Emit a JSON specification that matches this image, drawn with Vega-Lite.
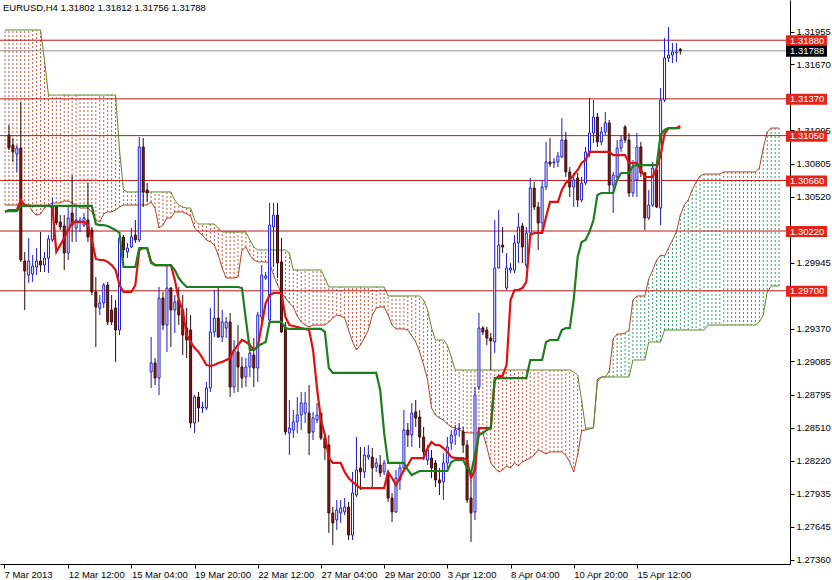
{
"$schema":"https://vega.github.io/schema/vega-lite/v6.json",
"width":790,"height":564,
"autosize":{"type":"none"},
"padding":{"left":0,"top":0,"right":42,"bottom":16},
"background":"white",
"config":{"view":{"stroke":null},"font":"Liberation Sans",
 "axis":{"grid":false,"tickColor":"black","domainColor":"black","labelColor":"black","labelFont":"Liberation Sans","labelFontSize":9.5,"tickSize":4,"title":null,"labelOverlap":false,"labelFlush":false}},
"title":{"text":"EURUSD,H4  1.31802 1.31812 1.31756 1.31788","anchor":"start","frame":"group","orient":"top","offset":-12,"fontSize":9.5,"fontWeight":"normal","font":"Liberation Sans","color":"black","dx":3},
"datasets":{
"levels":[{"p":1.3188},{"p":1.3137},{"p":1.3105},{"p":1.3066},{"p":1.3022},{"p":1.2970}],
"cur":[{"p":1.31788}],
"candles":[
{"i":0,"t":1.30386,"k":1.30394},
{"i":1,"o":1.31055,"h":1.31142,"l":1.30925,"c":1.30942,"t":1.30403,"k":1.30394},
{"i":2,"o":1.30968,"h":1.31029,"l":1.30821,"c":1.30908,"t":1.30403,"k":1.30394},
{"i":3,"o":1.30890,"h":1.30968,"l":1.30734,"c":1.30942,"t":1.30403,"k":1.30394},
{"i":4,"o":1.30942,"h":1.31343,"l":1.29951,"c":1.29968,"t":1.30490,"k":1.30438},
{"i":5,"o":1.29959,"h":1.30038,"l":1.29533,"c":1.29872,"t":1.30446,"k":1.30438},
{"i":6,"o":1.29837,"h":1.30159,"l":1.29768,"c":1.29959,"t":1.30438,"k":1.30438},
{"i":7,"o":1.29846,"h":1.30011,"l":1.29777,"c":1.29916,"t":1.30438,"k":1.30438},
{"i":8,"o":1.29907,"h":1.30072,"l":1.29837,"c":1.29959,"t":1.30438,"k":1.30438},
{"i":9,"o":1.29959,"h":1.30212,"l":1.29864,"c":1.29924,"t":1.30438,"k":1.30438},
{"i":10,"o":1.29924,"h":1.30038,"l":1.29864,"c":1.29985,"t":1.30438,"k":1.30438},
{"i":11,"o":1.29985,"h":1.30185,"l":1.29855,"c":1.30151,"t":1.30438,"k":1.30438},
{"i":12,"o":1.30142,"h":1.30507,"l":1.30125,"c":1.30429,"t":1.30429,"k":1.30438},
{"i":13,"o":1.30429,"h":1.30446,"l":1.30272,"c":1.30290,"t":1.30038,"k":1.30438},
{"i":14,"o":1.30299,"h":1.30359,"l":1.30229,"c":1.30255,"t":1.30098,"k":1.30438},
{"i":15,"o":1.30264,"h":1.30359,"l":1.29881,"c":1.30029,"t":1.30159,"k":1.30438},
{"i":16,"o":1.30029,"h":1.30446,"l":1.29968,"c":1.30333,"t":1.30229,"k":1.30438},
{"i":17,"o":1.30377,"h":1.30707,"l":1.30125,"c":1.30272,"t":1.30290,"k":1.30438},
{"i":18,"o":1.30246,"h":1.30429,"l":1.30125,"c":1.30316,"t":1.30299,"k":1.30438},
{"i":19,"o":1.30299,"h":1.30342,"l":1.30212,"c":1.30307,"t":1.30299,"k":1.30438},
{"i":20,"o":1.30272,"h":1.30377,"l":1.30255,"c":1.30333,"t":1.30299,"k":1.30438},
{"i":21,"o":1.30316,"h":1.30638,"l":1.30125,"c":1.30168,"t":1.30272,"k":1.30438},
{"i":22,"o":1.30229,"h":1.30255,"l":1.29663,"c":1.29690,"t":1.30142,"k":1.30438},
{"i":23,"o":1.29690,"h":1.29820,"l":1.29211,"c":1.29559,"t":1.29977,"k":1.30281},
{"i":24,"o":1.29550,"h":1.29663,"l":1.29489,"c":1.29594,"t":1.29968,"k":1.30272},
{"i":25,"o":1.29594,"h":1.29768,"l":1.29550,"c":1.29750,"t":1.29968,"k":1.30272},
{"i":26,"o":1.29750,"h":1.29777,"l":1.29402,"c":1.29429,"t":1.29951,"k":1.30264},
{"i":27,"o":1.29533,"h":1.29663,"l":1.29402,"c":1.29429,"t":1.29924,"k":1.30246},
{"i":28,"o":1.29550,"h":1.29620,"l":1.29081,"c":1.29359,"t":1.29881,"k":1.30229},
{"i":29,"o":1.29359,"h":1.30185,"l":1.29315,"c":1.30159,"t":1.29750,"k":1.30203},
{"i":30,"o":1.30168,"h":1.30185,"l":1.29985,"c":1.30055,"t":1.29690,"k":1.29907},
{"i":31,"o":1.30038,"h":1.30116,"l":1.29985,"c":1.30072,"t":1.29690,"k":1.29907},
{"i":32,"o":1.30081,"h":1.30246,"l":1.30072,"c":1.30168,"t":1.29690,"k":1.29907},
{"i":33,"o":1.30185,"h":1.30316,"l":1.30116,"c":1.30142,"t":1.29750,"k":1.29907},
{"i":34,"o":1.30142,"h":1.31038,"l":1.30125,"c":1.30951,"t":1.30055,"k":1.30072},
{"i":35,"o":1.30951,"h":1.31029,"l":1.30429,"c":1.30560,"t":1.30072,"k":1.30072},
{"i":36,"o":1.30577,"h":1.30638,"l":1.30473,"c":1.30551,"t":1.30072,"k":1.30072},
{"i":37,"o":1.28994,"h":1.29298,"l":1.28854,"c":1.29072,"t":1.29951,"k":1.29942},
{"i":38,"o":1.29072,"h":1.29115,"l":1.28880,"c":1.28941,"t":1.29924,"k":1.29924},
{"i":39,"o":1.28941,"h":1.29733,"l":1.28793,"c":1.29637,"t":1.29924,"k":1.29924},
{"i":40,"o":1.29637,"h":1.29690,"l":1.29359,"c":1.29402,"t":1.29924,"k":1.29924},
{"i":41,"o":1.29402,"h":1.29924,"l":1.29168,"c":1.29724,"t":1.29924,"k":1.29924},
{"i":42,"o":1.29724,"h":1.29733,"l":1.29211,"c":1.29533,"t":1.29924,"k":1.29924},
{"i":43,"o":1.29533,"h":1.29663,"l":1.29333,"c":1.29603,"t":1.29794,"k":1.29881},
{"i":44,"o":1.29620,"h":1.29733,"l":1.29402,"c":1.29489,"t":1.29620,"k":1.29811},
{"i":45,"o":1.29533,"h":1.29663,"l":1.29141,"c":1.29315,"t":1.29533,"k":1.29768},
{"i":46,"o":1.29376,"h":1.29550,"l":1.29115,"c":1.29272,"t":1.29315,"k":1.29733},
{"i":47,"o":1.29359,"h":1.29489,"l":1.28506,"c":1.28550,"t":1.29255,"k":1.29733},
{"i":48,"o":1.28550,"h":1.28793,"l":1.28463,"c":1.28776,"t":1.29202,"k":1.29733},
{"i":49,"o":1.28776,"h":1.28820,"l":1.28559,"c":1.28680,"t":1.29168,"k":1.29733},
{"i":50,"o":1.28680,"h":1.28733,"l":1.28637,"c":1.28689,"t":1.29115,"k":1.29733},
{"i":51,"o":1.28680,"h":1.28907,"l":1.28663,"c":1.28854,"t":1.29054,"k":1.29733},
{"i":52,"o":1.28854,"h":1.29550,"l":1.28820,"c":1.29342,"t":1.29046,"k":1.29733},
{"i":53,"o":1.29342,"h":1.29707,"l":1.29298,"c":1.29463,"t":1.29054,"k":1.29733},
{"i":54,"o":1.29463,"h":1.29724,"l":1.29289,"c":1.29298,"t":1.29072,"k":1.29733},
{"i":55,"o":1.29298,"h":1.29533,"l":1.29255,"c":1.29429,"t":1.29081,"k":1.29733},
{"i":56,"o":1.29376,"h":1.29472,"l":1.29289,"c":1.29429,"t":1.29098,"k":1.29733},
{"i":57,"o":1.29429,"h":1.29507,"l":1.28776,"c":1.28863,"t":1.29115,"k":1.29733},
{"i":58,"o":1.28863,"h":1.29272,"l":1.28811,"c":1.29185,"t":1.29185,"k":1.29733},
{"i":59,"o":1.29168,"h":1.29402,"l":1.28820,"c":1.29037,"t":1.29228,"k":1.29733},
{"i":60,"o":1.29037,"h":1.29124,"l":1.28854,"c":1.28941,"t":1.29272,"k":1.29724},
{"i":61,"o":1.28950,"h":1.29115,"l":1.28863,"c":1.29037,"t":1.29255,"k":1.29446},
{"i":62,"o":1.29037,"h":1.29246,"l":1.28950,"c":1.29159,"t":1.29228,"k":1.29185},
{"i":63,"o":1.29141,"h":1.29289,"l":1.28863,"c":1.29028,"t":1.29185,"k":1.29185},
{"i":64,"o":1.29028,"h":1.29516,"l":1.28907,"c":1.29489,"t":1.29211,"k":1.29220},
{"i":65,"o":1.29472,"h":1.29924,"l":1.29429,"c":1.29837,"t":1.29402,"k":1.29237},
{"i":66,"o":1.29811,"h":1.29864,"l":1.29794,"c":1.29829,"t":1.29594,"k":1.29255},
{"i":67,"o":1.29446,"h":1.30464,"l":1.29420,"c":1.30272,"t":1.29663,"k":1.29429},
{"i":68,"o":1.30255,"h":1.30464,"l":1.29907,"c":1.30359,"t":1.29681,"k":1.29429},
{"i":69,"o":1.30359,"h":1.30464,"l":1.29811,"c":1.29942,"t":1.29681,"k":1.29429},
{"i":70,"o":1.29951,"h":1.30159,"l":1.29333,"c":1.29342,"t":1.29681,"k":1.29429},
{"i":71,"o":1.29385,"h":1.29429,"l":1.28445,"c":1.28472,"t":1.29472,"k":1.29376},
{"i":72,"o":1.28463,"h":1.28750,"l":1.28271,"c":1.28506,"t":1.29402,"k":1.29368},
{"i":73,"o":1.28489,"h":1.28663,"l":1.28419,"c":1.28559,"t":1.29394,"k":1.29368},
{"i":74,"o":1.28559,"h":1.28776,"l":1.28463,"c":1.28619,"t":1.29385,"k":1.29368},
{"i":75,"o":1.28619,"h":1.28820,"l":1.28489,"c":1.28724,"t":1.29376,"k":1.29368},
{"i":76,"o":1.28637,"h":1.28820,"l":1.28550,"c":1.28724,"t":1.29368,"k":1.29368},
{"i":77,"o":1.28637,"h":1.28880,"l":1.28271,"c":1.28463,"t":1.29359,"k":1.29368},
{"i":78,"o":1.28472,"h":1.28646,"l":1.28402,"c":1.28593,"t":1.29185,"k":1.29368},
{"i":79,"o":1.28576,"h":1.28724,"l":1.28550,"c":1.28619,"t":1.28854,"k":1.29368},
{"i":80,"o":1.28637,"h":1.28637,"l":1.28402,"c":1.28419,"t":1.28576,"k":1.29368},
{"i":81,"o":1.28419,"h":1.28463,"l":1.28228,"c":1.28332,"t":1.28445,"k":1.29342},
{"i":82,"o":1.28358,"h":1.28445,"l":1.27593,"c":1.27767,"t":1.28245,"k":1.29028},
{"i":83,"o":1.27767,"h":1.27819,"l":1.27488,"c":1.27680,"t":1.28202,"k":1.28985},
{"i":84,"o":1.27706,"h":1.27880,"l":1.27619,"c":1.27793,"t":1.28202,"k":1.28985},
{"i":85,"o":1.27767,"h":1.27880,"l":1.27680,"c":1.27810,"t":1.28202,"k":1.28985},
{"i":86,"o":1.27776,"h":1.27897,"l":1.27749,"c":1.27819,"t":1.28124,"k":1.28985},
{"i":87,"o":1.27819,"h":1.27863,"l":1.27532,"c":1.27575,"t":1.28071,"k":1.28985},
{"i":88,"o":1.27575,"h":1.28124,"l":1.27532,"c":1.27941,"t":1.28037,"k":1.28985},
{"i":89,"o":1.27923,"h":1.28428,"l":1.27906,"c":1.28141,"t":1.28010,"k":1.28985},
{"i":90,"o":1.28158,"h":1.28341,"l":1.27967,"c":1.28124,"t":1.27984,"k":1.28985},
{"i":91,"o":1.28124,"h":1.28341,"l":1.28071,"c":1.28271,"t":1.27984,"k":1.28985},
{"i":92,"o":1.28254,"h":1.28358,"l":1.28228,"c":1.28271,"t":1.27984,"k":1.28985},
{"i":93,"o":1.28254,"h":1.28332,"l":1.27984,"c":1.28158,"t":1.27984,"k":1.28985},
{"i":94,"o":1.28167,"h":1.28245,"l":1.28124,"c":1.28202,"t":1.27984,"k":1.28985},
{"i":95,"o":1.28184,"h":1.28271,"l":1.28080,"c":1.28115,"t":1.27984,"k":1.28837},
{"i":96,"o":1.28124,"h":1.28228,"l":1.28097,"c":1.28202,"t":1.27984,"k":1.28463},
{"i":97,"o":1.28115,"h":1.28141,"l":1.27863,"c":1.27897,"t":1.28124,"k":1.28202},
{"i":98,"o":1.27897,"h":1.27941,"l":1.27689,"c":1.27776,"t":1.28071,"k":1.28202},
{"i":99,"o":1.27776,"h":1.28141,"l":1.27767,"c":1.28071,"t":1.28010,"k":1.28202},
{"i":100,"o":1.28054,"h":1.28202,"l":1.27967,"c":1.28158,"t":1.28071,"k":1.28202},
{"i":101,"o":1.28158,"h":1.28663,"l":1.28124,"c":1.28489,"t":1.28141,"k":1.28202},
{"i":102,"o":1.28489,"h":1.28550,"l":1.28341,"c":1.28445,"t":1.28184,"k":1.28141},
{"i":103,"o":1.28445,"h":1.28724,"l":1.28341,"c":1.28637,"t":1.28245,"k":1.28097},
{"i":104,"o":1.28646,"h":1.28750,"l":1.28515,"c":1.28593,"t":1.28245,"k":1.28115},
{"i":105,"o":1.28602,"h":1.28663,"l":1.28332,"c":1.28428,"t":1.28245,"k":1.28132},
{"i":106,"o":1.28428,"h":1.28515,"l":1.28228,"c":1.28298,"t":1.28245,"k":1.28132},
{"i":107,"o":1.28228,"h":1.28358,"l":1.28184,"c":1.28315,"t":1.28332,"k":1.28132},
{"i":108,"o":1.28245,"h":1.28315,"l":1.28071,"c":1.28158,"t":1.28385,"k":1.28132},
{"i":109,"o":1.28202,"h":1.28228,"l":1.27993,"c":1.28054,"t":1.28358,"k":1.28132},
{"i":110,"o":1.28054,"h":1.28158,"l":1.27923,"c":1.28028,"t":1.28358,"k":1.28132},
{"i":111,"o":1.28037,"h":1.28289,"l":1.27880,"c":1.28202,"t":1.28332,"k":1.28132},
{"i":112,"o":1.28202,"h":1.28428,"l":1.28141,"c":1.28341,"t":1.28298,"k":1.28132},
{"i":113,"o":1.28376,"h":1.28489,"l":1.28315,"c":1.28445,"t":1.28254,"k":1.28211},
{"i":114,"o":1.28445,"h":1.28532,"l":1.28358,"c":1.28489,"t":1.28245,"k":1.28228},
{"i":115,"o":1.28498,"h":1.28550,"l":1.28428,"c":1.28506,"t":1.28245,"k":1.28228},
{"i":116,"o":1.28472,"h":1.28515,"l":1.28289,"c":1.28358,"t":1.28245,"k":1.28228},
{"i":117,"o":1.28358,"h":1.28402,"l":1.27854,"c":1.27880,"t":1.28228,"k":1.28158},
{"i":118,"o":1.27897,"h":1.28054,"l":1.27515,"c":1.27767,"t":1.28071,"k":1.28115},
{"i":119,"o":1.27776,"h":1.28863,"l":1.27706,"c":1.28793,"t":1.28141,"k":1.28271},
{"i":120,"o":1.28863,"h":1.29507,"l":1.28837,"c":1.29376,"t":1.28506,"k":1.28445},
{"i":121,"o":1.29376,"h":1.29394,"l":1.29315,"c":1.29342,"t":1.28506,"k":1.28463},
{"i":122,"o":1.29359,"h":1.29385,"l":1.29228,"c":1.29289,"t":1.28506,"k":1.28489},
{"i":123,"o":1.29289,"h":1.29333,"l":1.29011,"c":1.29263,"t":1.28506,"k":1.28506},
{"i":124,"o":1.29255,"h":1.30316,"l":1.29159,"c":1.29898,"t":1.28924,"k":1.28941},
{"i":125,"o":1.29898,"h":1.30403,"l":1.29898,"c":1.30098,"t":1.28959,"k":1.28941},
{"i":126,"o":1.30098,"h":1.30255,"l":1.30029,"c":1.30081,"t":1.28959,"k":1.28941},
{"i":127,"o":1.29724,"h":1.30029,"l":1.29707,"c":1.29898,"t":1.29054,"k":1.28941},
{"i":128,"o":1.29881,"h":1.29942,"l":1.29855,"c":1.29898,"t":1.29620,"k":1.28941},
{"i":129,"o":1.29881,"h":1.30185,"l":1.29855,"c":1.30116,"t":1.29707,"k":1.28941},
{"i":130,"o":1.30116,"h":1.30377,"l":1.29942,"c":1.30255,"t":1.29707,"k":1.28941},
{"i":131,"o":1.30264,"h":1.30290,"l":1.29942,"c":1.30081,"t":1.29724,"k":1.28941},
{"i":132,"o":1.29924,"h":1.30255,"l":1.29898,"c":1.30203,"t":1.29777,"k":1.28941},
{"i":133,"o":1.30203,"h":1.30681,"l":1.30168,"c":1.30594,"t":1.30185,"k":1.29098},
{"i":134,"o":1.30594,"h":1.30647,"l":1.30403,"c":1.30429,"t":1.30203,"k":1.29098},
{"i":135,"o":1.30429,"h":1.30473,"l":1.30055,"c":1.30290,"t":1.30203,"k":1.29098},
{"i":136,"o":1.30290,"h":1.30664,"l":1.30203,"c":1.30603,"t":1.30203,"k":1.29098},
{"i":137,"o":1.30603,"h":1.30995,"l":1.30577,"c":1.30821,"t":1.30342,"k":1.29255},
{"i":138,"o":1.30821,"h":1.31029,"l":1.30777,"c":1.30803,"t":1.30473,"k":1.29272},
{"i":139,"o":1.30812,"h":1.30855,"l":1.30768,"c":1.30821,"t":1.30473,"k":1.29272},
{"i":140,"o":1.30821,"h":1.30908,"l":1.30777,"c":1.30873,"t":1.30473,"k":1.29272},
{"i":141,"o":1.30864,"h":1.31203,"l":1.30855,"c":1.31012,"t":1.30577,"k":1.29359},
{"i":142,"o":1.31012,"h":1.31082,"l":1.30690,"c":1.30734,"t":1.30638,"k":1.29376},
{"i":143,"o":1.30734,"h":1.30777,"l":1.30516,"c":1.30603,"t":1.30664,"k":1.29376},
{"i":144,"o":1.30603,"h":1.30725,"l":1.30429,"c":1.30664,"t":1.30707,"k":1.29620},
{"i":145,"o":1.30681,"h":1.30725,"l":1.30429,"c":1.30490,"t":1.30751,"k":1.29994},
{"i":146,"o":1.30490,"h":1.30690,"l":1.30473,"c":1.30638,"t":1.30812,"k":1.30125},
{"i":147,"o":1.30638,"h":1.30951,"l":1.30620,"c":1.30908,"t":1.30838,"k":1.30142},
{"i":148,"o":1.30899,"h":1.31377,"l":1.30864,"c":1.31073,"t":1.30908,"k":1.30212},
{"i":149,"o":1.31073,"h":1.31360,"l":1.30986,"c":1.31212,"t":1.30908,"k":1.30316},
{"i":150,"o":1.31212,"h":1.31247,"l":1.30951,"c":1.30995,"t":1.30908,"k":1.30534},
{"i":151,"o":1.30995,"h":1.31125,"l":1.30968,"c":1.31082,"t":1.30908,"k":1.30551},
{"i":152,"o":1.31082,"h":1.31256,"l":1.31055,"c":1.31160,"t":1.30908,"k":1.30551},
{"i":153,"o":1.31160,"h":1.31186,"l":1.30551,"c":1.30620,"t":1.30908,"k":1.30551},
{"i":154,"o":1.30620,"h":1.30734,"l":1.30377,"c":1.30707,"t":1.30881,"k":1.30551},
{"i":155,"o":1.30690,"h":1.31012,"l":1.30664,"c":1.30942,"t":1.30881,"k":1.30664},
{"i":156,"o":1.30942,"h":1.31055,"l":1.30908,"c":1.31012,"t":1.30881,"k":1.30725},
{"i":157,"o":1.31125,"h":1.31142,"l":1.30986,"c":1.31012,"t":1.30881,"k":1.30725},
{"i":158,"o":1.31012,"h":1.31073,"l":1.30516,"c":1.30551,"t":1.30812,"k":1.30725},
{"i":159,"o":1.30551,"h":1.30838,"l":1.30516,"c":1.30777,"t":1.30812,"k":1.30786},
{"i":160,"o":1.30664,"h":1.31073,"l":1.30516,"c":1.30951,"t":1.30812,"k":1.30794},
{"i":161,"o":1.30951,"h":1.30995,"l":1.30690,"c":1.30725,"t":1.30751,"k":1.30794},
{"i":162,"o":1.30725,"h":1.30734,"l":1.30229,"c":1.30333,"t":1.30690,"k":1.30794},
{"i":163,"o":1.30333,"h":1.30577,"l":1.30316,"c":1.30446,"t":1.30690,"k":1.30794},
{"i":164,"o":1.30446,"h":1.30821,"l":1.30429,"c":1.30768,"t":1.30690,"k":1.30794},
{"i":165,"o":1.30751,"h":1.30812,"l":1.30420,"c":1.30429,"t":1.30768,"k":1.30794},
{"i":166,"o":1.30420,"h":1.31464,"l":1.30272,"c":1.31360,"t":1.30881,"k":1.31055},
{"i":167,"o":1.31360,"h":1.31899,"l":1.31343,"c":1.31725,"t":1.31064,"k":1.31099},
{"i":168,"o":1.31725,"h":1.31995,"l":1.31690,"c":1.31751,"t":1.31116,"k":1.31116},
{"i":169,"o":1.31751,"h":1.31856,"l":1.31682,"c":1.31778,"t":1.31116,"k":1.31116},
{"i":170,"o":1.31769,"h":1.31856,"l":1.31690,"c":1.31778,"t":1.31116,"k":1.31116},
{"i":171,"o":1.31802,"h":1.31812,"l":1.31756,"c":1.31788,"t":1.31134,"k":1.31116}
],
"cloud":[
{"i":0,"a":1.30446,"b":1.31969},{"i":1,"a":1.30446,"b":1.31969},{"i":2,"a":1.30446,"b":1.31969},{"i":3,"a":1.30446,"b":1.31969},{"i":4,"a":1.30446,"b":1.31969},{"i":5,"a":1.30446,"b":1.31969},{"i":6,"a":1.30446,"b":1.31969},{"i":7,"a":1.30386,"b":1.31969},{"i":8,"a":1.30359,"b":1.31969},{"i":9,"a":1.30368,"b":1.31969},
{"i":10,"a":1.30420,"b":1.31708},{"i":11,"a":1.30446,"b":1.31403},{"i":12,"a":1.30464,"b":1.31403},{"i":13,"a":1.30464,"b":1.31403},{"i":14,"a":1.30464,"b":1.31403},{"i":15,"a":1.30481,"b":1.31403},{"i":16,"a":1.30481,"b":1.31403},{"i":17,"a":1.30464,"b":1.31403},{"i":18,"a":1.30446,"b":1.31403},{"i":19,"a":1.30420,"b":1.31403},
{"i":20,"a":1.30420,"b":1.31403},{"i":21,"a":1.30420,"b":1.31403},{"i":22,"a":1.30386,"b":1.31403},{"i":23,"a":1.30316,"b":1.31403},{"i":24,"a":1.30299,"b":1.31403},{"i":25,"a":1.30368,"b":1.31403},{"i":26,"a":1.30386,"b":1.31403},{"i":27,"a":1.30386,"b":1.31403},{"i":28,"a":1.30403,"b":1.31403},{"i":29,"a":1.30429,"b":1.30925},
{"i":30,"a":1.30446,"b":1.30577},{"i":31,"a":1.30446,"b":1.30560},{"i":32,"a":1.30446,"b":1.30560},{"i":33,"a":1.30446,"b":1.30560},{"i":34,"a":1.30446,"b":1.30560},{"i":35,"a":1.30446,"b":1.30560},{"i":36,"a":1.30446,"b":1.30560},{"i":37,"a":1.30473,"b":1.30560},{"i":38,"a":1.30420,"b":1.30560},{"i":39,"a":1.30246,"b":1.30560},
{"i":40,"a":1.30272,"b":1.30560},{"i":41,"a":1.30333,"b":1.30560},{"i":42,"a":1.30333,"b":1.30560},{"i":43,"a":1.30386,"b":1.30490},{"i":44,"a":1.30386,"b":1.30446},{"i":45,"a":1.30386,"b":1.30429},{"i":46,"a":1.30368,"b":1.30420},{"i":47,"a":1.30351,"b":1.30420},{"i":48,"a":1.30246,"b":1.30316},{"i":49,"a":1.30212,"b":1.30281},
{"i":50,"a":1.30185,"b":1.30281},{"i":51,"a":1.30142,"b":1.30281},{"i":52,"a":1.30125,"b":1.30281},{"i":53,"a":1.30098,"b":1.30281},{"i":54,"a":1.30011,"b":1.30246},{"i":55,"a":1.29898,"b":1.30212},{"i":56,"a":1.29811,"b":1.30212},{"i":57,"a":1.29811,"b":1.30212},{"i":58,"a":1.29811,"b":1.30212},{"i":59,"a":1.29820,"b":1.30212},
{"i":60,"a":1.30055,"b":1.30212},{"i":61,"a":1.30081,"b":1.30212},{"i":62,"a":1.30011,"b":1.30142},{"i":63,"a":1.29968,"b":1.30081},{"i":64,"a":1.29951,"b":1.30055},{"i":65,"a":1.29951,"b":1.30055},{"i":66,"a":1.29951,"b":1.30055},{"i":67,"a":1.29942,"b":1.30055},{"i":68,"a":1.29837,"b":1.30055},{"i":69,"a":1.29750,"b":1.30055},
{"i":70,"a":1.29681,"b":1.30055},{"i":71,"a":1.29637,"b":1.30055},{"i":72,"a":1.29594,"b":1.30029},{"i":73,"a":1.29559,"b":1.29881},{"i":74,"a":1.29481,"b":1.29881},{"i":75,"a":1.29429,"b":1.29881},{"i":76,"a":1.29402,"b":1.29881},{"i":77,"a":1.29385,"b":1.29881},{"i":78,"a":1.29402,"b":1.29881},{"i":79,"a":1.29402,"b":1.29881},
{"i":80,"a":1.29402,"b":1.29881},{"i":81,"a":1.29402,"b":1.29811},{"i":82,"a":1.29429,"b":1.29733},{"i":83,"a":1.29463,"b":1.29733},{"i":84,"a":1.29489,"b":1.29733},{"i":85,"a":1.29481,"b":1.29733},{"i":86,"a":1.29463,"b":1.29733},{"i":87,"a":1.29359,"b":1.29733},{"i":88,"a":1.29255,"b":1.29733},{"i":89,"a":1.29185,"b":1.29733},
{"i":90,"a":1.29228,"b":1.29733},{"i":91,"a":1.29289,"b":1.29733},{"i":92,"a":1.29359,"b":1.29733},{"i":93,"a":1.29489,"b":1.29733},{"i":94,"a":1.29550,"b":1.29733},{"i":95,"a":1.29559,"b":1.29733},{"i":96,"a":1.29559,"b":1.29733},{"i":97,"a":1.29489,"b":1.29655},{"i":98,"a":1.29402,"b":1.29655},{"i":99,"a":1.29368,"b":1.29655},
{"i":100,"a":1.29368,"b":1.29655},{"i":101,"a":1.29368,"b":1.29655},{"i":102,"a":1.29359,"b":1.29655},{"i":103,"a":1.29307,"b":1.29655},{"i":104,"a":1.29255,"b":1.29655},{"i":105,"a":1.29168,"b":1.29655},{"i":106,"a":1.29054,"b":1.29620},{"i":107,"a":1.28924,"b":1.29533},{"i":108,"a":1.28680,"b":1.29376},{"i":109,"a":1.28619,"b":1.29272},
{"i":110,"a":1.28593,"b":1.29272},{"i":111,"a":1.28576,"b":1.29272},{"i":112,"a":1.28541,"b":1.29228},{"i":113,"a":1.28515,"b":1.29124},{"i":114,"a":1.28506,"b":1.29011},{"i":115,"a":1.28489,"b":1.29011},{"i":116,"a":1.28472,"b":1.29011},{"i":117,"a":1.28463,"b":1.29011},{"i":118,"a":1.28463,"b":1.29011},{"i":119,"a":1.28463,"b":1.29011},
{"i":120,"a":1.28463,"b":1.29011},{"i":121,"a":1.28463,"b":1.29011},{"i":122,"a":1.28341,"b":1.29011},{"i":123,"a":1.28202,"b":1.29011},{"i":124,"a":1.28158,"b":1.29011},{"i":125,"a":1.28124,"b":1.29011},{"i":126,"a":1.28141,"b":1.29011},{"i":127,"a":1.28176,"b":1.29011},{"i":128,"a":1.28158,"b":1.29011},{"i":129,"a":1.28202,"b":1.29011},
{"i":130,"a":1.28176,"b":1.29011},{"i":131,"a":1.28211,"b":1.29011},{"i":132,"a":1.28228,"b":1.29011},{"i":133,"a":1.28245,"b":1.29011},{"i":134,"a":1.28271,"b":1.29011},{"i":135,"a":1.28315,"b":1.29011},{"i":136,"a":1.28298,"b":1.29011},{"i":137,"a":1.28280,"b":1.29011},{"i":138,"a":1.28298,"b":1.29011},{"i":139,"a":1.28298,"b":1.29011},
{"i":140,"a":1.28298,"b":1.29011},{"i":141,"a":1.28298,"b":1.29011},{"i":142,"a":1.28271,"b":1.29011},{"i":143,"a":1.28211,"b":1.29011},{"i":144,"a":1.28124,"b":1.28994},{"i":145,"a":1.28271,"b":1.28967},{"i":146,"a":1.28480,"b":1.28750},{"i":147,"a":1.28489,"b":1.28506},{"i":148,"a":1.28498,"b":1.28506},{"i":149,"a":1.28506,"b":1.28506},
{"i":150,"a":1.28933,"b":1.28907},{"i":151,"a":1.28950,"b":1.28950},{"i":152,"a":1.28950,"b":1.28950},{"i":153,"a":1.29002,"b":1.28950},{"i":154,"a":1.29281,"b":1.28950},{"i":155,"a":1.29324,"b":1.28950},{"i":156,"a":1.29324,"b":1.28950},{"i":157,"a":1.29333,"b":1.28950},{"i":158,"a":1.29359,"b":1.28950},{"i":159,"a":1.29620,"b":1.29098},
{"i":160,"a":1.29655,"b":1.29098},{"i":161,"a":1.29655,"b":1.29098},{"i":162,"a":1.29655,"b":1.29098},{"i":163,"a":1.29803,"b":1.29255},{"i":164,"a":1.29881,"b":1.29255},{"i":165,"a":1.29968,"b":1.29255},{"i":166,"a":1.30011,"b":1.29255},{"i":167,"a":1.30003,"b":1.29359},{"i":168,"a":1.30072,"b":1.29359},{"i":169,"a":1.30142,"b":1.29359},
{"i":170,"a":1.30212,"b":1.29359},{"i":171,"a":1.30359,"b":1.29359},{"i":172,"a":1.30446,"b":1.29359},{"i":173,"a":1.30490,"b":1.29359},{"i":174,"a":1.30577,"b":1.29359},{"i":175,"a":1.30647,"b":1.29359},{"i":176,"a":1.30699,"b":1.29359},{"i":177,"a":1.30716,"b":1.29359},{"i":178,"a":1.30716,"b":1.29402},{"i":179,"a":1.30716,"b":1.29402},
{"i":180,"a":1.30716,"b":1.29402},{"i":181,"a":1.30716,"b":1.29402},{"i":182,"a":1.30734,"b":1.29402},{"i":183,"a":1.30734,"b":1.29402},{"i":184,"a":1.30734,"b":1.29402},{"i":185,"a":1.30734,"b":1.29402},{"i":186,"a":1.30734,"b":1.29402},{"i":187,"a":1.30734,"b":1.29402},{"i":188,"a":1.30734,"b":1.29402},{"i":189,"a":1.30734,"b":1.29402},
{"i":190,"a":1.30734,"b":1.29402},{"i":191,"a":1.30768,"b":1.29429},{"i":192,"a":1.30942,"b":1.29489},{"i":193,"a":1.31082,"b":1.29690},{"i":194,"a":1.31116,"b":1.29742},{"i":195,"a":1.31116,"b":1.29742},{"i":196,"a":1.31116,"b":1.29742}
]
},
"layer":[
{"data":{"name":"cloud"},
 "mark":{"type":"rule","strokeWidth":1,"strokeDash":[2,2]},
 "encoding":{
  "x":{"field":"i","type":"quantitative","title":null,"scale":{"domain":[0,197.5],"nice":false,"zero":false},
   "axis":{"orient":"bottom","values":[-0.25,16,32,48,64,80,96,112,128,144,160],"labelExpr":"['7 Mar 2013','12 Mar 12:00','15 Mar 04:00','19 Mar 20:00','22 Mar 12:00','27 Mar 04:00','29 Mar 20:00','3 Apr 12:00','8 Apr 04:00','10 Apr 20:00','15 Apr 12:00'][round(datum.value/16)]","labelAlign":"left","labelBaseline":"top","labelPadding":1,"labelFlush":false,"labelOverlap":false}},
  "y":{"field":"a","type":"quantitative","title":null,"scale":{"domain":[1.27323,1.3223],"nice":false,"zero":false},
   "axis":{"orient":"right","values":[1.31955,1.3167,1.31095,1.30805,1.3052,1.29945,1.2937,1.29085,1.28795,1.2851,1.2822,1.27935,1.27645,1.2736],"format":".5f","labelPadding":2,"labelFlush":false,"labelOverlap":false}},
  "y2":{"field":"b"},
  "color":{"condition":{"test":"datum.a > datum.b","value":"#2f9a66"},"value":"#c8583e"}
 }},
{"data":{"name":"cloud"},
 "mark":{"type":"line","strokeWidth":1,"color":"#b0452e"},
 "encoding":{
  "x":{"field":"i","type":"quantitative","title":null},
  "y":{"field":"a","type":"quantitative","title":null}
 }},
{"data":{"name":"cloud"},
 "mark":{"type":"line","strokeWidth":1,"color":"#5a8a2a"},
 "encoding":{
  "x":{"field":"i","type":"quantitative","title":null},
  "y":{"field":"b","type":"quantitative","title":null}
 }},
{"data":{"name":"levels"},
 "mark":{"type":"rule","color":"#c01818","strokeWidth":1},
 "encoding":{
  "y":{"field":"p","type":"quantitative","title":null}
 }},
{"data":{"name":"cur"},
 "mark":{"type":"rule","color":"#8c8c8c","strokeWidth":1},
 "encoding":{
  "y":{"field":"p","type":"quantitative","title":null}
 }},
{"data":{"name":"candles"},
 "mark":{"type":"rule","strokeWidth":1},
 "encoding":{
  "x":{"field":"i","type":"quantitative","title":null},
  "y":{"field":"l","type":"quantitative","title":null},
  "y2":{"field":"h"},
  "color":{"condition":{"test":"datum.c >= datum.o","value":"#1c1cc8"},"value":"#2b0b0b"}
 }},
{"data":{"name":"candles"},
 "mark":{"type":"bar","width":2,"strokeWidth":1},
 "encoding":{
  "x":{"field":"i","type":"quantitative","title":null},
  "y":{"field":"o","type":"quantitative","title":null},
  "y2":{"field":"c"},
  "fill":{"condition":{"test":"datum.c >= datum.o","value":"#ffffff"},"value":"#8b1a1a"},
  "stroke":{"condition":{"test":"datum.c >= datum.o","value":"#1c1cc8"},"value":"#3b0b0b"}
 }},
{"data":{"name":"candles"},
 "mark":{"type":"line","strokeWidth":2.2,"color":"#e01010"},
 "encoding":{
  "x":{"field":"i","type":"quantitative","title":null},
  "y":{"field":"t","type":"quantitative","title":null}
 }},
{"data":{"name":"candles"},
 "mark":{"type":"line","strokeWidth":2.2,"color":"#1e7d1e"},
 "encoding":{
  "x":{"field":"i","type":"quantitative","title":null},
  "y":{"field":"k","type":"quantitative","title":null}
 }},
{"data":{"name":"levels"},
 "mark":{"type":"rect","color":"#e3241b","xOffset":1,"x2Offset":42,"yOffset":-5,"y2Offset":6},
 "encoding":{
  "x":{"datum":197.5,"type":"quantitative","title":null},
  "x2":{"datum":197.5},
  "y":{"field":"p","type":"quantitative","title":null},
  "y2":{"field":"p"}
 }},
{"data":{"name":"cur"},
 "mark":{"type":"rect","color":"#000000","xOffset":1,"x2Offset":42,"yOffset":-5,"y2Offset":6},
 "encoding":{
  "x":{"datum":197.5,"type":"quantitative","title":null},
  "x2":{"datum":197.5},
  "y":{"field":"p","type":"quantitative","title":null},
  "y2":{"field":"p"}
 }},
{"data":{"name":"levels"},
 "mark":{"type":"text","align":"left","baseline":"middle","dx":5,"dy":0.5,"color":"white","font":"Liberation Sans","fontSize":9.5},
 "encoding":{
  "x":{"datum":197.5,"type":"quantitative","title":null},
  "y":{"field":"p","type":"quantitative","title":null},
  "text":{"field":"p","type":"quantitative","format":".5f"}
 }},
{"data":{"name":"cur"},
 "mark":{"type":"text","align":"left","baseline":"middle","dx":5,"dy":0.5,"color":"white","font":"Liberation Sans","fontSize":9.5},
 "encoding":{
  "x":{"datum":197.5,"type":"quantitative","title":null},
  "y":{"field":"p","type":"quantitative","title":null},
  "text":{"field":"p","type":"quantitative","format":".5f"}
 }}
]
}
